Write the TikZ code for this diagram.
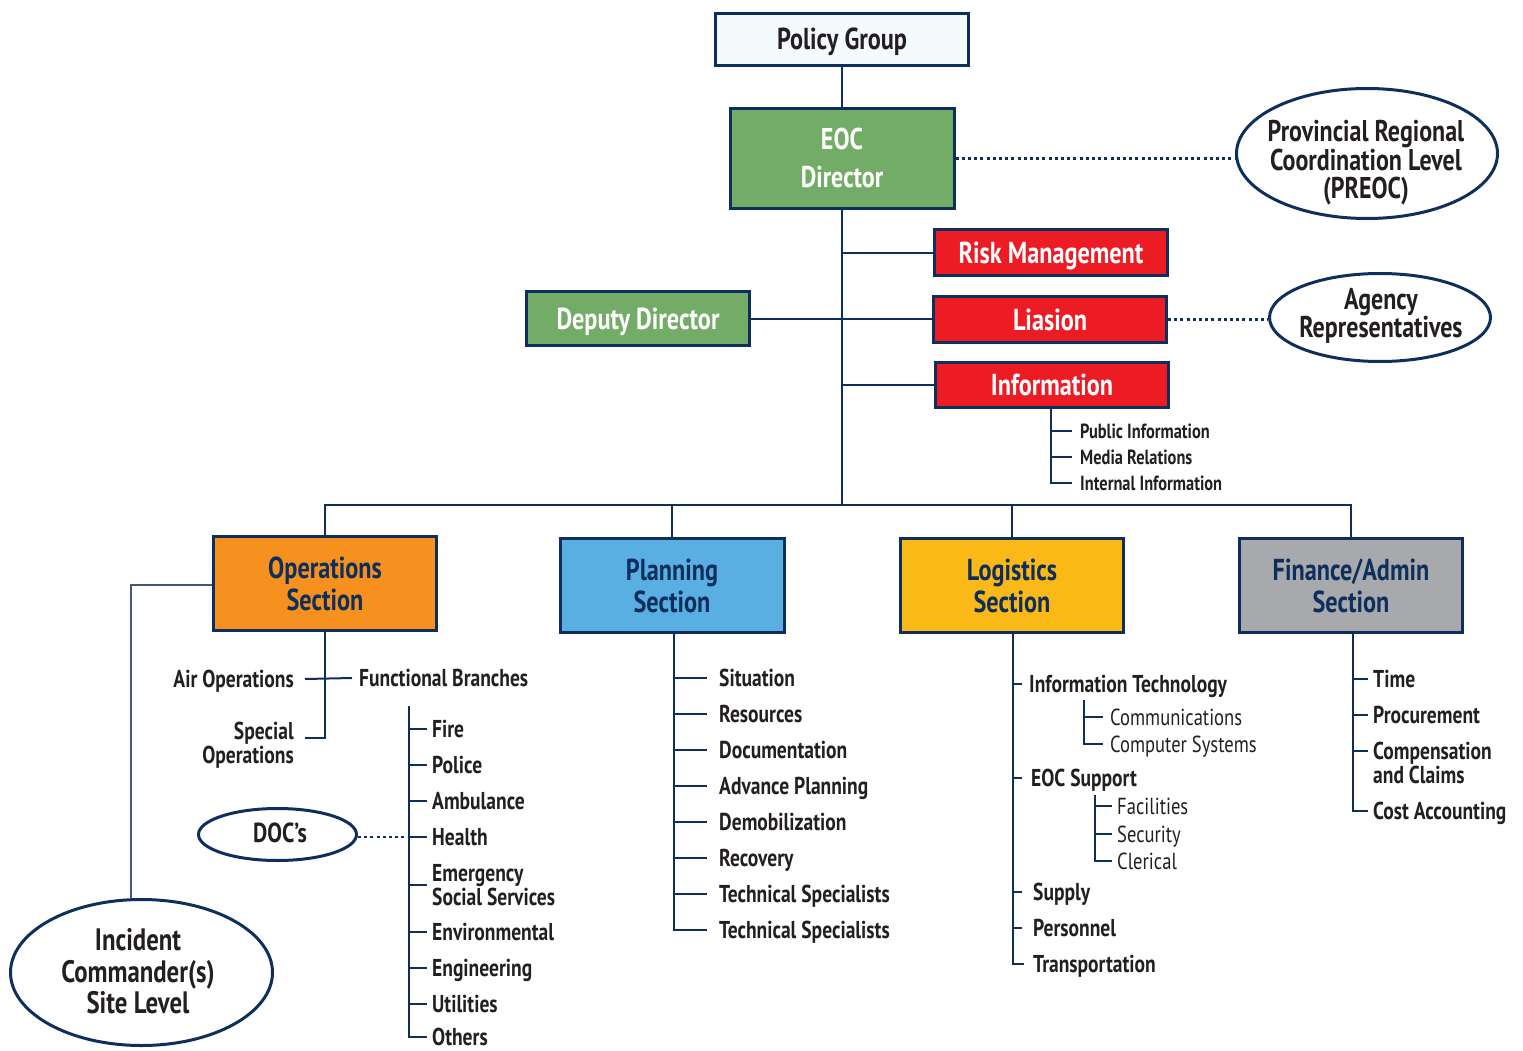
\documentclass[tikz,border=0pt]{standalone}
\usepackage{fontspec}
\setmainfont{PT Sans}[FakeStretch=0.8]
\usetikzlibrary{shapes.geometric}

\definecolor{navy}{HTML}{0E2F5C}
\definecolor{ink}{HTML}{231F20}
\definecolor{eocgreen}{HTML}{73AC66}
\definecolor{alertred}{HTML}{ED1C24}
\definecolor{opsorange}{HTML}{F6901F}
\definecolor{planblue}{HTML}{5AAFE2}
\definecolor{logyellow}{HTML}{FAB917}
\definecolor{fingray}{HTML}{A7A9AC}
\definecolor{policybg}{HTML}{F5FAFD}

\begin{document}
\begin{tikzpicture}[x=1pt,y=-1pt,
  link/.style={draw=navy, line width=2pt},
  thinlink/.style={draw=navy!80, line width=1.5pt},
  dotlink/.style={draw=navy, line width=2.6pt, dash pattern=on 3pt off 3.2pt},
  box/.style={draw=navy, line width=3pt, inner sep=0pt, align=center,
    font=\bfseries\fontsize{30.3}{32}\selectfont},
  oneline/.style={text height=21pt, text depth=0pt},
  oval/.style={ellipse, draw=navy, line width=3pt, inner sep=0pt},
  ovaltext/.style={align=center, inner sep=0pt, text=ink,
    font=\bfseries\fontsize{30}{27.5}\selectfont},
  item/.style={anchor=west, inner sep=0pt, text height=17pt, text depth=0pt,
    text=ink, font=\bfseries\fontsize{24.4}{23}\selectfont},
  itemtwo/.style={inner sep=0pt, text=ink, align=left,
    font=\bfseries\fontsize{24.4}{23.5}\selectfont},
  smallitem/.style={anchor=west, inner sep=0pt, text height=14pt, text depth=0pt,
    text=ink, font=\bfseries\fontsize{20.5}{20}\selectfont},
  subitem/.style={anchor=west, inner sep=0pt, text height=16pt, text depth=0pt,
    text=ink, font=\fontsize{23.2}{22}\selectfont}
]
\useasboundingbox (0,0) rectangle (1523,1051);

% ---- command staff ----
\node[box, oneline, fill=policybg, text=ink, minimum width=253pt, minimum height=52pt]
  (policy) at (842,39.5) {Policy Group};
\node[box, fill=eocgreen, text=white, minimum width=224pt, minimum height=100pt,
  font=\bfseries\fontsize{30}{38}\selectfont]
  (eoc) at (842,158.5) {EOC\\Director};
\node[box, oneline, fill=alertred, text=white, minimum width=233pt, minimum height=46pt]
  (risk) at (1051,252.5) {Risk Management};
\node[box, oneline, fill=eocgreen, text=white, minimum width=223pt, minimum height=54pt]
  (deputy) at (638,318.5) {Deputy Director};
\node[box, oneline, fill=alertred, text=white, minimum width=233pt, minimum height=46pt]
  (liaison) at (1050,319.5) {Liasion};
\node[box, oneline, fill=alertred, text=white, minimum width=233pt, minimum height=45pt]
  (info) at (1052,385) {Information};

% ---- outside levels ----
\node[oval, minimum width=261pt, minimum height=130pt] (preoc) at (1367,153.5) {};
\node[ovaltext] (preoctext) at (1366,162.5)
  {Provincial Regional\\Coordination Level\\(PREOC)};
\node[oval, minimum width=221pt, minimum height=88pt] (agency) at (1380,317.5) {};
\node[ovaltext] (agencytext) at (1381,316) {Agency\\Representatives};

% ---- general staff sections ----
\node[box, fill=opsorange, text=navy, minimum width=223pt, minimum height=94pt]
  (ops) at (325,583.5) {Operations\\Section};
\node[box, fill=planblue, text=navy, minimum width=224pt, minimum height=94pt]
  (plan) at (672,585.5) {Planning\\Section};
\node[box, fill=logyellow, text=navy, minimum width=223pt, minimum height=94pt]
  (log) at (1012,585.5) {Logistics\\Section};
\node[box, fill=fingray, text=navy, minimum width=223pt, minimum height=94pt]
  (fin) at (1351,585.5) {Finance/Admin\\Section};

\node[oval, minimum width=158pt, minimum height=52pt] (doc) at (277.5,834.5) {};
\node[ovaltext, font=\bfseries\fontsize{27.5}{27.5}\selectfont] (doctext) at (280,833) {DOC's};
\node[oval, minimum width=262pt, minimum height=146pt] (incident) at (141.5,972.5) {};
\node[ovaltext, font=\bfseries\fontsize{31}{31.5}\selectfont] (incidenttext) at (138,971.5)
  {Incident\\Commander(s)\\Site Level};

% ---- top connectors ----
\draw[link] (policy.south) -- (eoc.north);
\coordinate (bus) at (842,505);
\draw[link] (eoc.south) -- (bus);
\draw[link] (eoc.south |- risk.west) -- (risk.west);
\draw[link] (deputy.east) -- (deputy.east -| liaison.west);
\draw[link] (eoc.south |- info.west) -- (info.west);
\draw[dotlink] (eoc.east) -- (eoc.east -| preoc.west);
\draw[dotlink] (liaison.east) -- (liaison.east -| agency.west);

% bus to the four sections
\draw[link] (ops.north) |- (bus) -| (fin.north);
\draw[link] (plan.north) -- (plan.north |- bus);
\draw[link] (log.north) -- (log.north |- bus);

% ---- information sub-units ----
\node[smallitem] (pubinfo) at (1080,431) {Public Information};
\node[smallitem] (media) at (1080,457) {Media Relations};
\node[smallitem] (intinfo) at (1080,483) {Internal Information};
\coordinate (infotrunk) at (1051,409);
\draw[link] (infotrunk) |- ([xshift=-8pt]intinfo.west);
\foreach \n in {pubinfo,media}
  \draw[link] (infotrunk |- \n.west) -- ([xshift=-8pt]\n.west);

% ---- operations ----
\coordinate (icdrop) at (131,585);
\draw[thinlink] (ops.west |- icdrop) -- (icdrop) -- (icdrop |- incident.north);

\node[item, anchor=east] (airops) at (294,679) {Air Operations};
\node[item] (funcbr) at (359,678) {Functional Branches};
\node[itemtwo, anchor=east, align=right] (specops) at (294,745) {Special\\Operations};
\coordinate (specturn) at (325,738);
\coordinate (specend) at (305,738);
\draw[link] (ops.south) -- (specturn) -- (specend);
\draw[link] ([xshift=11pt]airops.east) -- ([xshift=-7pt]funcbr.west);

\node[item] (fire) at (432,729) {Fire};
\node[item] (police) at (432,765) {Police};
\node[item] (ambulance) at (432,801) {Ambulance};
\node[item] (health) at (432,837) {Health};
\node[itemtwo, anchor=west] (ess) at (432,885) {Emergency\\Social Services};
\node[item] (environ) at (432,932) {Environmental};
\node[item] (engineer) at (432,968) {Engineering};
\node[item] (utilities) at (432,1004) {Utilities};
\node[item] (others) at (432,1037) {Others};
\coordinate (fbtop) at (409,706);
\draw[link] (fbtop) |- ([xshift=-5pt]others.west);
\foreach \n in {fire,police,ambulance,health,ess,environ,engineer,utilities}
  \draw[link] (fbtop |- \n.west) -- ([xshift=-5pt]\n.west);
\draw[dotlink] (doc.east |- health.west) -- (fbtop |- health.west);

% ---- planning ----
\node[item] (situation) at (719,678) {Situation};
\node[item] (resources) at (719,714) {Resources};
\node[item] (documentation) at (719,750) {Documentation};
\node[item] (advplan) at (719,786) {Advance Planning};
\node[item] (demob) at (719,822) {Demobilization};
\node[item] (recovery) at (719,858) {Recovery};
\node[item] (techspecA) at (719,894) {Technical Specialists};
\node[item] (techspecB) at (719,930) {Technical Specialists};
\coordinate (plantrunk) at (674,634);
\draw[link] (plantrunk) |- ([xshift=-12pt]techspecB.west);
\foreach \n in {situation,resources,documentation,advplan,demob,recovery,techspecA}
  \draw[link] (plantrunk |- \n.west) -- ([xshift=-12pt]\n.west);

% ---- logistics ----
\node[item] (infotech) at (1029,684) {Information Technology};
\node[subitem] (comms) at (1110,717) {Communications};
\node[subitem] (compsys) at (1110,744) {Computer Systems};
\node[item] (eocsupport) at (1031,778) {EOC Support};
\node[subitem] (facilities) at (1117,806) {Facilities};
\node[subitem] (security) at (1117,834) {Security};
\node[subitem] (clerical) at (1117,861) {Clerical};
\node[item] (supply) at (1033,892) {Supply};
\node[item] (personnel) at (1033,928) {Personnel};
\node[item] (transport) at (1033,964) {Transportation};
\coordinate (logtrunk) at (1013,634);
\draw[link] (logtrunk) |- ([xshift=-9pt]transport.west);
\foreach \n in {infotech,eocsupport,supply,personnel}
  \draw[link] (logtrunk |- \n.west) -- (1022,0 |- \n.west);

\coordinate (ittrunk) at (1084,700);
\draw[link] (ittrunk) |- ([xshift=-7pt]compsys.west);
\draw[link] (ittrunk |- comms.west) -- ([xshift=-7pt]comms.west);
\coordinate (suptrunk) at (1095,795);
\draw[link] (suptrunk) |- ([xshift=-5pt]clerical.west);
\foreach \n in {facilities,security}
  \draw[link] (suptrunk |- \n.west) -- ([xshift=-5pt]\n.west);

% ---- finance / admin ----
\node[item] (time) at (1373,679) {Time};
\node[item] (procure) at (1373,715) {Procurement};
\node[itemtwo, anchor=north west] (comp) at (1373,742) {Compensation\\and Claims};
\node[item] (costacc) at (1373,811) {Cost Accounting};
\coordinate (fintrunk) at (1353,634);
\draw[link] (fintrunk) |- ([xshift=-5pt]costacc.west);
\foreach \n in {time,procure}
  \draw[link] (fintrunk |- \n.west) -- ([xshift=-5pt]\n.west);
\coordinate (comptick) at (1368,751);
\draw[link] (fintrunk |- comptick) -- (comptick);
\end{tikzpicture}
\end{document}
